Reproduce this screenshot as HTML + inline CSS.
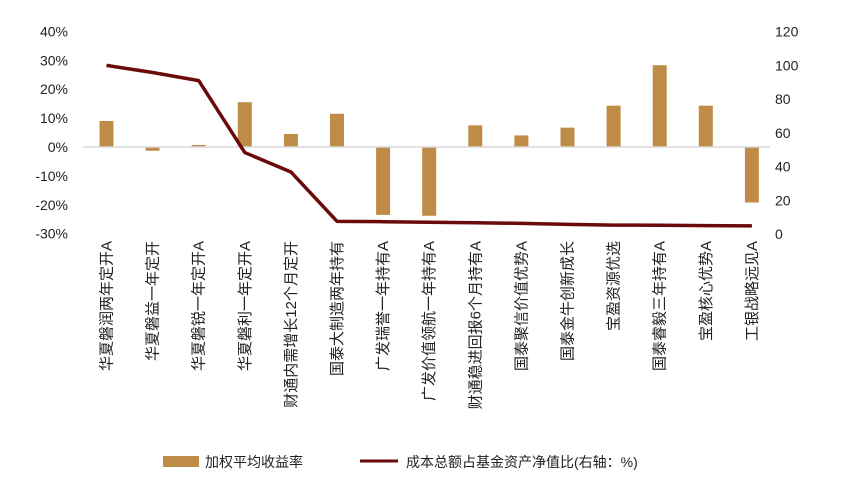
<!DOCTYPE html>
<html><head><meta charset="utf-8"><style>
body{margin:0;background:#fff;}
svg text{font-family:"Liberation Sans","Noto Sans CJK SC",sans-serif;fill:#222;}
</style></head><body>
<svg width="847" height="490">
<g id="g"></g>
<g>
<rect x="163" y="456" width="36" height="11" fill="#BF8C48"/>
<text x="205" y="467" font-size="14">加权平均收益率</text>
<line x1="360" y1="461" x2="398" y2="461" stroke="#6B0A0A" stroke-width="3"/>
<text x="406" y="467" font-size="14">成本总额占基金资产净值比(右轴：%)</text>
</g>
</svg>
<script>
const categories=["华夏磐润两年定开A","华夏磐益一年定开","华夏磐锐一年定开A","华夏磐利一年定开A","财通内需增长12个月定开","国泰大制造两年持有","广发瑞誉一年持有A","广发价值领航一年持有A","财通稳进回报6个月持有A","国泰聚信价值优势A","国泰金牛创新成长","宝盈资源优选","国泰睿毅三年持有A","宝盈核心优势A","工银战略远见A"];
const barValues=[9.0,-1.3,0.7,15.5,4.5,11.5,-23.5,-23.8,7.5,4.0,6.7,14.3,28.3,14.3,-19.2];
const lineValues=[100,95.8,91,48.3,36.8,7.5,7.3,7,6.7,6.3,5.7,5.3,5.2,5,4.8];
const leftTicks=[40,30,20,10,0,-10,-20,-30];
const rightTicks=[120,100,80,60,40,20,0];
const NS="http://www.w3.org/2000/svg";
const g=document.getElementById('g');
const yL=v=>147-(v)*2.89;
const yR=v=>234-v*(202.3/120);
const xC=i=>106.5+i*46.1;
function mk(t,a){const e=document.createElementNS(NS,t);for(const k in a)e.setAttribute(k,a[k]);g.appendChild(e);return e;}
leftTicks.forEach(t=>{const e=mk('text',{x:68,y:yL(t)+5,'font-size':14,'text-anchor':'end'});e.textContent=t+'%';

});
rightTicks.forEach(t=>{const e=mk('text',{x:775,y:yR(t)+5,'font-size':14});e.textContent=t;

});
barValues.forEach((v,i)=>{const y0=yL(0),y1=yL(v);const r=mk('rect',{x:xC(i)-7,y:Math.min(y0,y1),width:14,height:Math.abs(y1-y0),fill:'#BF8C48'});

});
const ax=mk('line',{x1:83,y1:yL(0),x2:770,y2:yL(0),stroke:'#d9d9d9','stroke-width':1.5});


const pl=mk('polyline',{points:lineValues.map((v,i)=>xC(i)+','+yR(v)).join(' '),fill:'none',stroke:'#6B0A0A','stroke-width':3.5,'stroke-linejoin':'round'});


categories.forEach((c,i)=>{const x=xC(i)+5,y=241;const e=mk('text',{x:x,y:y,'font-size':15,'text-anchor':'end',transform:`rotate(-90 ${x} ${y})`});e.textContent=c;

});
</script>
</body></html>
